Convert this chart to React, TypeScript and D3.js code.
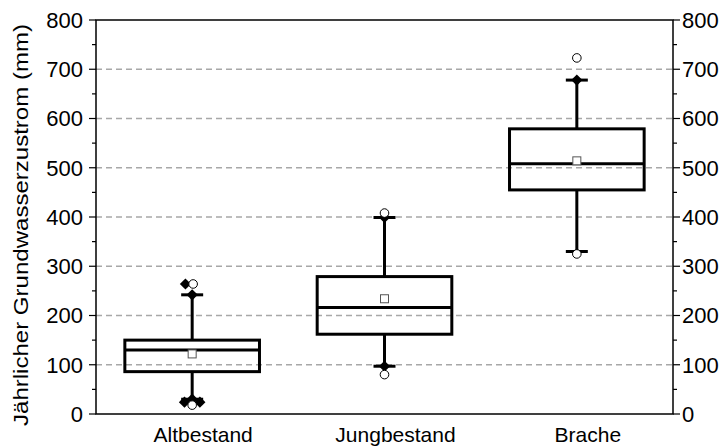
import React from 'react'
import * as d3 from 'd3'

const categories = ['Altbestand', 'Jungbestand', 'Brache']
const q1 = [86, 162, 455]
const q3 = [150, 279, 579]
const medians = [130, 216, 508]
const means = [122, 234, 514]
const whiskerLow = [30, 97, 330]
const whiskerHigh = [242, 399, 678]
// filled diamonds: [category, value, jitter]
const filledMarks = [
  [0, 264, -0.035], [0, 242, 0], [0, 30, 0], [0, 24, -0.04], [0, 24, 0.04],
  [1, 399, 0], [1, 97, 0],
  [2, 678, 0],
]
// open circles: [category, value, jitter]
const openMarks = [
  [0, 264, 0.005], [0, 18, 0],
  [1, 408, 0], [1, 80, 0],
  [2, 723, 0], [2, 325, 0],
]
const yTicks = [0, 100, 200, 300, 400, 500, 600, 700, 800]
const minorTicks = [50, 150, 250, 350, 450, 550, 650, 750]
const gridValues = [100, 200, 300, 400, 500, 600, 700]

const W = 719
const H = 447
const left = 96
const right = 673
const top = 20
const bottom = 414
const font = 'Liberation Sans, Arial, sans-serif'

export default function App() {
  const x = d3.scaleBand().domain(categories).range([left, right])
  const y = d3.scaleLinear().domain([0, 800]).range([bottom, top])
  const bw = x.bandwidth() * 0.7
  const cx = (i: number) => (x(categories[i]) as number) + x.bandwidth() / 2
  const diamond = d3.symbol().type(d3.symbolDiamond2).size(80)

  return (
    <svg width={W} height={H} style={{ position: 'absolute', left: 0, top: 0 }}>
      <rect width={W} height={H} fill="#fff" />
      {gridValues.map(v => (
        <line key={v} x1={left} x2={right} y1={y(v)} y2={y(v)}
          stroke="#a8a8a8" strokeWidth={1.3} strokeDasharray="6,4" />
      ))}
      <rect x={left} y={top} width={right - left} height={bottom - top}
        fill="none" stroke="#000" strokeWidth={1.5} />
      {yTicks.map(v => (
        <g key={v}>
          <line x1={left - 7} x2={left} y1={y(v)} y2={y(v)} stroke="#000" strokeWidth={1.2} />
          <line x1={right} x2={right + 7} y1={y(v)} y2={y(v)} stroke="#000" strokeWidth={1.2} />
          <text x={83} y={y(v)} dy="0.36em" textAnchor="end" fontFamily={font} fontSize={22}>{v}</text>
          <text x={682} y={y(v)} dy="0.36em" textAnchor="start" fontFamily={font} fontSize={22}>{v}</text>
        </g>
      ))}
      {minorTicks.map(v => (
        <g key={v}>
          <line x1={left - 4} x2={left} y1={y(v)} y2={y(v)} stroke="#000" strokeWidth={1.2} />
          <line x1={right} x2={right + 4} y1={y(v)} y2={y(v)} stroke="#000" strokeWidth={1.2} />
        </g>
      ))}
      {categories.map((c, i) => (
        <g key={c}>
          <line x1={cx(i)} x2={cx(i)} y1={y(whiskerLow[i])} y2={y(q1[i])} stroke="#000" strokeWidth={3} />
          <line x1={cx(i)} x2={cx(i)} y1={y(q3[i])} y2={y(whiskerHigh[i])} stroke="#000" strokeWidth={3} />
          <line x1={cx(i) - 11} x2={cx(i) + 11} y1={y(whiskerLow[i])} y2={y(whiskerLow[i])} stroke="#000" strokeWidth={3} />
          <line x1={cx(i) - 11} x2={cx(i) + 11} y1={y(whiskerHigh[i])} y2={y(whiskerHigh[i])} stroke="#000" strokeWidth={3} />
          <rect x={cx(i) - bw / 2} y={y(q3[i])} width={bw} height={y(q1[i]) - y(q3[i])}
            fill="none" stroke="#000" strokeWidth={3} />
          <line x1={cx(i) - bw / 2} x2={cx(i) + bw / 2} y1={y(medians[i])} y2={y(medians[i])} stroke="#000" strokeWidth={3} />
          <rect x={cx(i) - 4} y={y(means[i]) - 4} width={8} height={8} fill="#fff" stroke="#555" strokeWidth={1} />
          <text x={cx(i) + 11} y={442} textAnchor="middle" fontFamily={font} fontSize={21}>{c}</text>
        </g>
      ))}
      {filledMarks.map((m, k) => (
        <path key={'f' + k} d={diamond() as string}
          transform={`translate(${cx(m[0]) + m[2] * x.step()},${y(m[1])})`} fill="#000" />
      ))}
      {openMarks.map((m, k) => (
        <circle key={'o' + k} cx={cx(m[0]) + m[2] * x.step()} cy={y(m[1])} r={4.3}
          fill="#fff" stroke="#000" strokeWidth={1} />
      ))}
      <text transform={`translate(28,${(top + bottom) / 2 + 8}) rotate(-90)`} textAnchor="middle"
        fontFamily={font} fontSize={21} textLength={402} lengthAdjust="spacingAndGlyphs">
        Jährlicher Grundwasserzustrom (mm)
      </text>
    </svg>
  )
}
